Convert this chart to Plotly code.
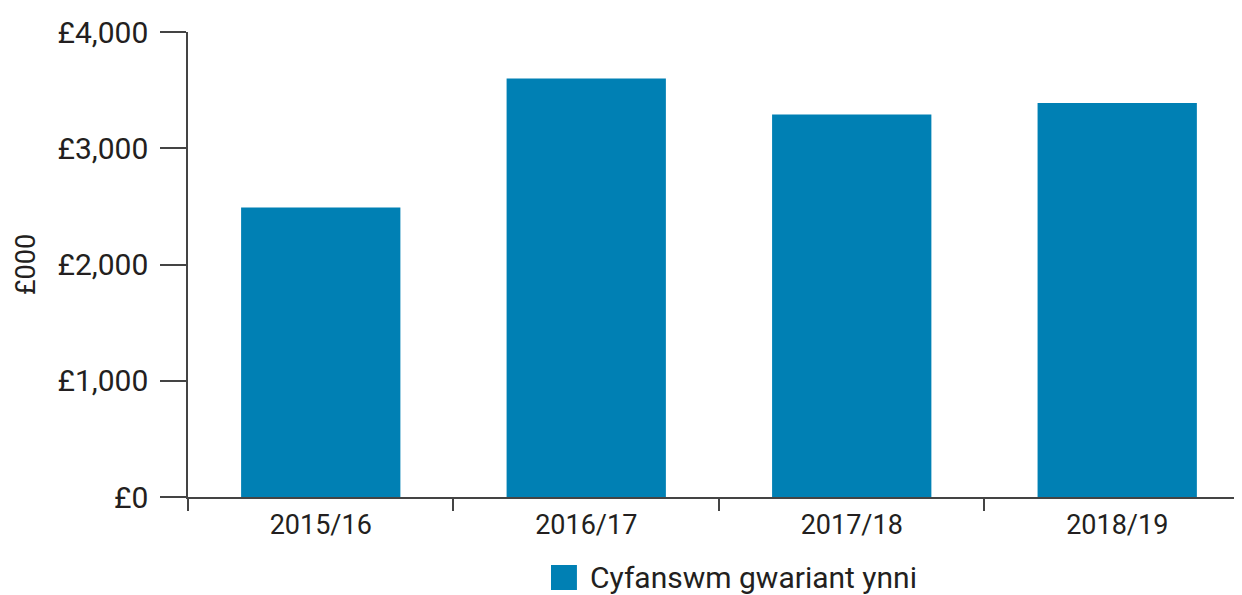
import plotly.graph_objects as go

years = ["2015/16", "2016/17", "2017/18", "2018/19"]
spend = [2490, 3600, 3290, 3390]
series_name = "Cyfanswm gwariant ynni"
y_ticks = [0, 1000, 2000, 3000, 4000]
y_labels = ["£0", "£1,000", "£2,000", "£3,000", "£4,000"]

BLUE = "#0080b4"
TEXT = "#231f20"
AXIS = "#444444"
FONT = "Roboto"

fig = go.Figure()
fig.add_trace(go.Bar(x=years, y=spend, name=series_name,
                     marker=dict(color=BLUE, line_width=0),
                     showlegend=False))

# page body has an 8px margin, so shrink the figure to fit the window
fig.update_layout(
    width=1234, height=587,
    plot_bgcolor="white",
    paper_bgcolor="white",
    bargap=0.4,
    margin=dict(l=180, r=0, t=24, b=98),
    font=dict(family=FONT, color=TEXT, size=26),
)

fig.update_xaxes(
    range=[-0.5, 3.47],
    showline=True, linecolor=AXIS, linewidth=1.5,
    ticks="outside", tickson="boundaries", ticklen=12,
    tickcolor=AXIS, tickwidth=1.5,
    tickfont=dict(size=27, color=TEXT),
    ticklabelstandoff=3,
    showgrid=False, zeroline=False,
)
fig.update_yaxes(
    range=[0, 4000],
    tickvals=y_ticks, ticktext=y_labels,
    showline=True, linecolor=AXIS, linewidth=1.5,
    ticks="outside", ticklen=26, tickcolor=AXIS, tickwidth=1.5,
    tickfont=dict(size=30, color=TEXT),
    ticklabelstandoff=6,
    title=dict(text="£000", font=dict(size=27, color=TEXT), standoff=14),
    showgrid=False, zeroline=False,
)

# custom legend below the plot
fig.add_shape(type="rect", xref="paper", yref="paper",
              x0=0.3444, x1=0.369, y0=-0.1462, y1=-0.2,
              fillcolor=BLUE, line_width=0)
fig.add_annotation(text=series_name, xref="paper", yref="paper",
                   x=0.3795, y=-0.173, xanchor="left", yanchor="middle",
                   showarrow=False, font=dict(size=30, color=TEXT))

fig.write_html("out.html")
